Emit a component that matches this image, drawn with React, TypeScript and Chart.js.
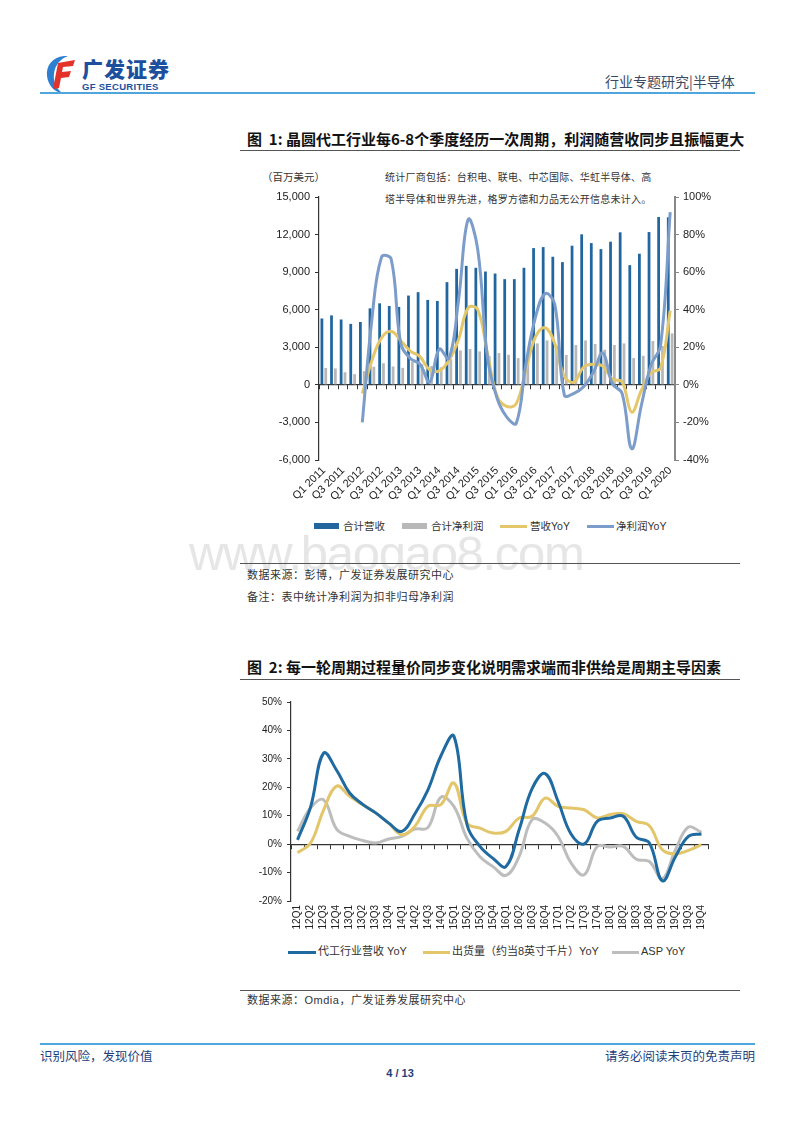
import React, { useEffect, useRef } from "react";
import { Chart, registerables } from "chart.js";

Chart.register(...registerables);

const FONT = "'Liberation Sans', Arial, 'Noto Sans CJK SC', sans-serif";
const CJK = "'Noto Sans CJK SC', 'Liberation Sans', sans-serif";

// ---------- Figure 1 data ----------
const quarters = [
  "Q1 2011", "Q2 2011", "Q3 2011", "Q4 2011",
  "Q1 2012", "Q2 2012", "Q3 2012", "Q4 2012",
  "Q1 2013", "Q2 2013", "Q3 2013", "Q4 2013",
  "Q1 2014", "Q2 2014", "Q3 2014", "Q4 2014",
  "Q1 2015", "Q2 2015", "Q3 2015", "Q4 2015",
  "Q1 2016", "Q2 2016", "Q3 2016", "Q4 2016",
  "Q1 2017", "Q2 2017", "Q3 2017", "Q4 2017",
  "Q1 2018", "Q2 2018", "Q3 2018", "Q4 2018",
  "Q1 2019", "Q2 2019", "Q3 2019", "Q4 2019",
  "Q1 2020",
];
// 合计营收 (百万美元)
const revenue = [
  5300, 5550, 5220, 4870, 5020, 6110, 6510, 6300, 6220, 7130, 7400, 6780, 6700,
  8200, 9260, 9500, 9350, 9050, 8890, 8440, 8440, 9350, 10920, 11000, 10230,
  9800, 11110, 12020, 11320, 10840, 11430, 12180, 9560, 10470, 12200, 13400,
  13380,
];
// 合计净利润 (百万美元)
const netProfit = [
  1350, 1310, 1010, 855, 1095, 1450, 1730, 1470, 1360, 1840, 1650, 1500, 1400,
  2050, 2750, 2860, 2670, 2300, 2540, 2400, 2140, 2300, 3310, 3550, 3100, 2380,
  3180, 3550, 3260, 2800, 3180, 3310, 2140, 2320, 3500, 3100, 4110,
];
// 营收YoY (%)
const revenueYoY = [
  null, null, null, null, -4.6, 13, 25, 28.5, 23.5, 18, 15, 8, 7.5, 13, 24,
  41, 40, 17, -6, -11.5, -10, 8, 25.5, 30.5, 22, 4.5, 1.5, 9.5, 11, 10, 3,
  1.5, -14.5, -3, 6.5, 9, 39.5,
];
// 净利润YoY (%)
const profitYoY = [
  null, null, null, null, -20, 35, 68, 67, 22, 14, 11, 1.5, 19, 14, 45, 88,
  72, 15, -7, -17, -20.5, 11, 36, 48.5, 43, -5.5, -4.5, -1, 6.5, 17, 0.5,
  -4.5, -34, -11, 10.5, 21, 92,
];
const leftAxisRange = [-6000, 15000, 3000];
const rightAxisRange = [-40, 100, 20];

// ---------- Figure 2 data ----------
const quarters2 = [
  "12Q1", "12Q2", "12Q3", "12Q4", "13Q1", "13Q2", "13Q3", "13Q4",
  "14Q1", "14Q2", "14Q3", "14Q4", "15Q1", "15Q2", "15Q3", "15Q4",
  "16Q1", "16Q2", "16Q3", "16Q4", "17Q1", "17Q2", "17Q3", "17Q4",
  "18Q1", "18Q2", "18Q3", "18Q4", "19Q1", "19Q2", "19Q3", "19Q4",
];
// 代工行业营收 YoY (%)
const foundryRevYoY = [
  1.5, 13, 32, 26, 18, 14, 11, 7.4, 4.5, 10.6, 19, 31, 38, 7, -0.8, -5, -7.9,
  5, 19.5, 24.8, 15, 3.5, 0.1, 8, 9.2, 9.8, 2.4, 0.4, -12.9, -4.4, 2.7, 3.6,
];
// 出货量（约当8英寸千片）YoY (%)
const shipmentYoY = [
  -3, 0.4, 12, 20.4, 16.8, 13.9, 11, 7.4, 3.3, 6.2, 13.3, 13.9, 21.5, 7.4, 5.6,
  3.9, 4.5, 9.2, 9.8, 16.2, 13.3, 12.7, 12.1, 9.2, 10.4, 10.7, 8, 6.5, -2, -3.4,
  -2.2, -0.2,
];
// ASP YoY (%)
const aspYoY = [
  4.5, 12.7, 15.6, 5.3, 2.7, 1.3, 0.4, 1.8, 2.7, 5.3, 5.8, 16.5, 13.3, 2.1,
  -4.4, -7.9, -11, -4.4, 8.6, 7.4, 2.7, -6.7, -10.8, -0.8, -1, -0.8, -5.3,
  -6.1, -12.2, -2, 6, 4.1,
];
const axis2Range = [-20, 50, 10];

const C_REV = "#22669f";
const C_PROFIT = "#b8b8b8";
const C_REVYOY = "#e5c76b";
const C_PROFITYOY = "#7c9cca";
const C2_BLUE = "#1f6aa0";
const C2_YELLOW = "#e3c56a";
const C2_GRAY = "#bdbdbd";

function makeChart1(): any {
  return {
    type: "bar",
    data: {
      labels: quarters,
      datasets: [
        {
          type: "line",
          label: "净利润YoY",
          data: profitYoY,
          yAxisID: "y1",
          xAxisID: "x",
          borderColor: C_PROFITYOY,
          borderWidth: 3,
          pointRadius: 0,
          tension: 0.4,
          order: 0,
        },
        {
          type: "line",
          label: "营收YoY",
          data: revenueYoY,
          yAxisID: "y1",
          xAxisID: "x",
          borderColor: C_REVYOY,
          borderWidth: 3,
          pointRadius: 0,
          tension: 0.4,
          order: 1,
        },
        {
          type: "bar",
          label: "合计营收",
          data: revenue,
          yAxisID: "y",
          xAxisID: "x",
          backgroundColor: C_REV,
          categoryPercentage: 0.8,
          barPercentage: 0.72,
          order: 2,
        },
        {
          type: "bar",
          label: "合计净利润",
          data: netProfit,
          yAxisID: "y",
          xAxisID: "x",
          backgroundColor: C_PROFIT,
          categoryPercentage: 0.8,
          barPercentage: 0.72,
          order: 3,
        },
      ],
    },
    options: {
      responsive: false,
      animation: false,
      devicePixelRatio: 1,
      layout: { padding: { top: 37, left: 0, right: 0, bottom: 0 } },
      plugins: { legend: { display: false }, tooltip: { enabled: false } },
      scales: {
        x: {
          type: "category",
          position: "bottom",
          offset: true,
          grid: { display: false, drawTicks: false },
          border: { display: false },
          ticks: {
            autoSkip: false,
            minRotation: 45,
            maxRotation: 45,
            padding: 4,
            color: "#222",
            font: { family: FONT, size: 11 },
            callback: (_v: any, i: number) => (i % 2 === 0 ? quarters[i] : ""),
          },
          afterFit: (s: any) => {
            s.height = 50;
          },
        },
        x2: {
          type: "category",
          axis: "x",
          position: { y: 0 },
          offset: true,
          grid: {
            offset: true,
            drawOnChartArea: false,
            drawTicks: true,
            tickLength: 4,
            color: "#333",
            lineWidth: 1,
          },
          border: { display: true, color: "#333", width: 1.2 },
          ticks: { display: false, autoSkip: false },
        },
        y: {
          position: "left",
          min: leftAxisRange[0],
          max: leftAxisRange[1],
          grid: { drawOnChartArea: false, tickLength: 4, color: "#333" },
          border: { color: "#333", width: 1.2 },
          ticks: {
            stepSize: leftAxisRange[2],
            padding: 5,
            color: "#222",
            font: { family: FONT, size: 11 },
            callback: (v: number) => v.toLocaleString("en-US"),
          },
          afterFit: (s: any) => {
            s.width = 79;
          },
        },
        y1: {
          position: "right",
          min: rightAxisRange[0],
          max: rightAxisRange[1],
          grid: { drawOnChartArea: false, tickLength: 4, color: "#888" },
          border: { color: "#888", width: 2 },
          ticks: {
            stepSize: rightAxisRange[2],
            padding: 4,
            color: "#222",
            font: { family: FONT, size: 11 },
            callback: (v: number) => v + "%",
          },
          afterFit: (s: any) => {
            s.width = 65;
          },
        },
      },
    },
  };
}

function makeChart2(): any {
  const line = (label: string, data: number[], color: string, order: number) => ({
    type: "line",
    label,
    data,
    borderColor: color,
    borderWidth: 3,
    pointRadius: 0,
    tension: 0.4,
    order,
  });
  return {
    type: "line",
    data: {
      labels: quarters2,
      datasets: [
        line("代工行业营收 YoY", foundryRevYoY, C2_BLUE, 0),
        line("出货量（约当8英寸千片）YoY", shipmentYoY, C2_YELLOW, 1),
        line("ASP YoY", aspYoY, C2_GRAY, 2),
      ],
    },
    options: {
      responsive: false,
      animation: false,
      devicePixelRatio: 1,
      layout: { padding: { top: 12, left: 0, right: 32, bottom: 0 } },
      plugins: { legend: { display: false }, tooltip: { enabled: false } },
      scales: {
        x: {
          type: "category",
          position: "bottom",
          offset: true,
          grid: { display: false, drawTicks: false },
          border: { display: false },
          ticks: {
            autoSkip: false,
            minRotation: 90,
            maxRotation: 90,
            padding: 4,
            color: "#222",
            font: { family: FONT, size: 10 },
          },
          afterFit: (s: any) => {
            s.height = 39;
          },
        },
        x2: {
          type: "category",
          axis: "x",
          position: { y: 0 },
          offset: true,
          grid: {
            offset: true,
            drawOnChartArea: false,
            drawTicks: true,
            tickLength: 4,
            color: "#333",
            lineWidth: 1,
          },
          border: { display: true, color: "#333", width: 1.2 },
          ticks: { display: false, autoSkip: false },
        },
        y: {
          position: "left",
          min: axis2Range[0],
          max: axis2Range[1],
          grid: { drawOnChartArea: false, tickLength: 4, color: "#333" },
          border: { color: "#333", width: 1.2 },
          ticks: {
            stepSize: axis2Range[2],
            padding: 5,
            color: "#222",
            font: { family: FONT, size: 10 },
            callback: (v: number) => v + "%",
          },
          afterFit: (s: any) => {
            s.width = 51;
          },
        },
      },
    },
  };
}

function ChartBox(props: { make: () => any; left: number; top: number; width: number; height: number }) {
  const ref = useRef<HTMLCanvasElement | null>(null);
  useEffect(() => {
    const chart = new Chart(ref.current as HTMLCanvasElement, props.make());
    return () => chart.destroy();
  }, []);
  return (
    <canvas
      ref={ref}
      width={props.width}
      height={props.height}
      style={{ position: "absolute", left: props.left, top: props.top, width: props.width, height: props.height }}
    />
  );
}

const abs = (left: number, top: number, extra: any = {}) => ({
  position: "absolute" as const,
  left,
  top,
  whiteSpace: "nowrap" as const,
  ...extra,
});

function Txt(props: { x: number; y: number; size: number; children: any; style?: any }) {
  return (
    <div
      style={abs(props.x, props.y - props.size * 0.7, {
        fontSize: props.size,
        lineHeight: `${props.size * 1.4}px`,
        fontFamily: FONT,
        color: "#333",
        ...(props.style || {}),
      })}
    >
      {props.children}
    </div>
  );
}

function Swatch(props: { x: number; y: number; w: number; h: number; color: string }) {
  return <div style={abs(props.x, props.y - props.h / 2, { width: props.w, height: props.h, background: props.color })} />;
}

export default function App() {
  return (
    <div
      style={{
        position: "absolute",
        left: 0,
        top: 0,
        width: 800,
        height: 1132,
        background: "#fff",
        overflow: "hidden",
        fontFamily: FONT,
      }}
    >
      {/* Header logo */}
      <svg style={abs(44, 54)} width={34} height={40} viewBox="0 0 34 40">
        <path d="M20 2 C8 3 2 12 3 22 C4 31 10 38 18 39 C12 34 9 27 10 20 C11 11 16 5 24 2 Z" fill="#2f7fd0" />
        <path d="M14 9 L31 6 L29 12 L19 13 L18 18 L27 17 L25 23 L17 24 L15 34 L9 35 Z" fill="#e2322a" />
      </svg>
      <div style={abs(82, 55, { fontFamily: CJK, fontWeight: 900, fontSize: 21, color: "#1c4f9e", letterSpacing: 1, lineHeight: "26px" })}>
        广发证券
      </div>
      <div style={abs(82, 81, { fontFamily: FONT, fontWeight: 700, fontSize: 9.5, color: "#1c4f9e", letterSpacing: 0.3, lineHeight: "12px" })}>
        GF SECURITIES
      </div>
      <Txt x={605} y={82} size={14} style={{ fontFamily: CJK, color: "#3d4a64" }}>
        行业专题研究|半导体
      </Txt>
      <div style={abs(40, 92, { width: 715, height: 2, background: "#4ea6dc" })} />

      {/* Figure 1 */}
      <Txt x={247} y={138} size={15} style={{ fontFamily: CJK, fontWeight: 700, color: "#111" }}>
        图&nbsp;&nbsp;1:&nbsp;晶圆代工行业每6-8个季度经历一次周期，利润随营收同步且振幅更大
      </Txt>
      <div style={abs(240, 150, { width: 500, height: 1, background: "#555" })} />

      <Txt x={262} y={177} size={10.5} style={{ fontFamily: CJK, color: "#333" }}>
        （百万美元）
      </Txt>
      <Txt x={385} y={177} size={10} style={{ fontFamily: CJK, color: "#333", letterSpacing: 0.25 }}>
        统计厂商包括：台积电、联电、中芯国际、华虹半导体、高
      </Txt>
      <Txt x={385} y={199} size={10} style={{ fontFamily: CJK, color: "#333", letterSpacing: 0.25 }}>
        塔半导体和世界先进，格罗方德和力品无公开信息未计入。
      </Txt>

      <ChartBox make={makeChart1} left={240} top={160} width={500} height={350} />

      {/* Figure 1 legend */}
      <Swatch x={314} y={526} w={25} h={6} color={C_REV} />
      <Txt x={343} y={526} size={10.5} style={{ fontFamily: CJK }}>合计营收</Txt>
      <Swatch x={402} y={526} w={25} h={6} color={C_PROFIT} />
      <Txt x={431} y={526} size={10.5} style={{ fontFamily: CJK }}>合计净利润</Txt>
      <Swatch x={500} y={526} w={27} h={3} color={C_REVYOY} />
      <Txt x={530} y={526} size={10.5}>营收YoY</Txt>
      <Swatch x={587} y={526} w={27} h={3} color={C_PROFITYOY} />
      <Txt x={616} y={526} size={10.5}>净利润YoY</Txt>

      {/* watermark */}
      <div style={abs(189, 528, { fontFamily: FONT, fontSize: 49, lineHeight: "50px", color: "#e6e6e6", letterSpacing: -1.3 })}>
        www.baogao8.com
      </div>

      <div style={abs(240, 563, { width: 500, height: 1, background: "#555" })} />
      <Txt x={247} y={575} size={11} style={{ fontFamily: CJK, letterSpacing: 0.5 }}>
        数据来源：彭博，广发证券发展研究中心
      </Txt>
      <Txt x={247} y={597} size={11} style={{ fontFamily: CJK, letterSpacing: 0.5 }}>
        备注：表中统计净利润为扣非归母净利润
      </Txt>

      {/* Figure 2 */}
      <Txt x={247} y={666} size={15} style={{ fontFamily: CJK, fontWeight: 700, color: "#111" }}>
        图&nbsp;&nbsp;2:&nbsp;每一轮周期过程量价同步变化说明需求端而非供给是周期主导因素
      </Txt>
      <div style={abs(240, 679, { width: 500, height: 1, background: "#555" })} />

      <ChartBox make={makeChart2} left={240} top={690} width={500} height={250} />

      <Swatch x={288} y={952} w={28} h={3} color={C2_BLUE} />
      <Txt x={318} y={952} size={11}>代工行业营收 YoY</Txt>
      <Swatch x={423} y={952} w={27} h={3} color={C2_YELLOW} />
      <Txt x={452} y={952} size={11}>出货量（约当8英寸千片）YoY</Txt>
      <Swatch x={612} y={952} w={27} h={3} color={C2_GRAY} />
      <Txt x={641} y={952} size={11}>ASP YoY</Txt>

      <div style={abs(240, 990, { width: 500, height: 1, background: "#555" })} />
      <Txt x={247} y={1001} size={11} style={{ letterSpacing: 0.5 }}>
        数据来源：Omdia，广发证券发展研究中心
      </Txt>

      {/* Footer */}
      <div style={abs(40, 1043, { width: 715, height: 2, background: "#4ea6dc" })} />
      <Txt x={40} y={1056} size={12.5} style={{ fontFamily: CJK, color: "#1e3f7c" }}>
        识别风险，发现价值
      </Txt>
      <div style={abs(455, 1056 - 9, { width: 300, textAlign: "right", fontFamily: CJK, fontSize: 12.5, lineHeight: "18px", color: "#1e3f7c" })}>
        请务必阅读末页的免责声明
      </div>
      <div style={abs(350, 1065, { width: 100, textAlign: "center", fontFamily: FONT, fontSize: 11, fontWeight: 700, lineHeight: "16px", color: "#1e3f7c" })}>
        4 / 13
      </div>
    </div>
  );
}
